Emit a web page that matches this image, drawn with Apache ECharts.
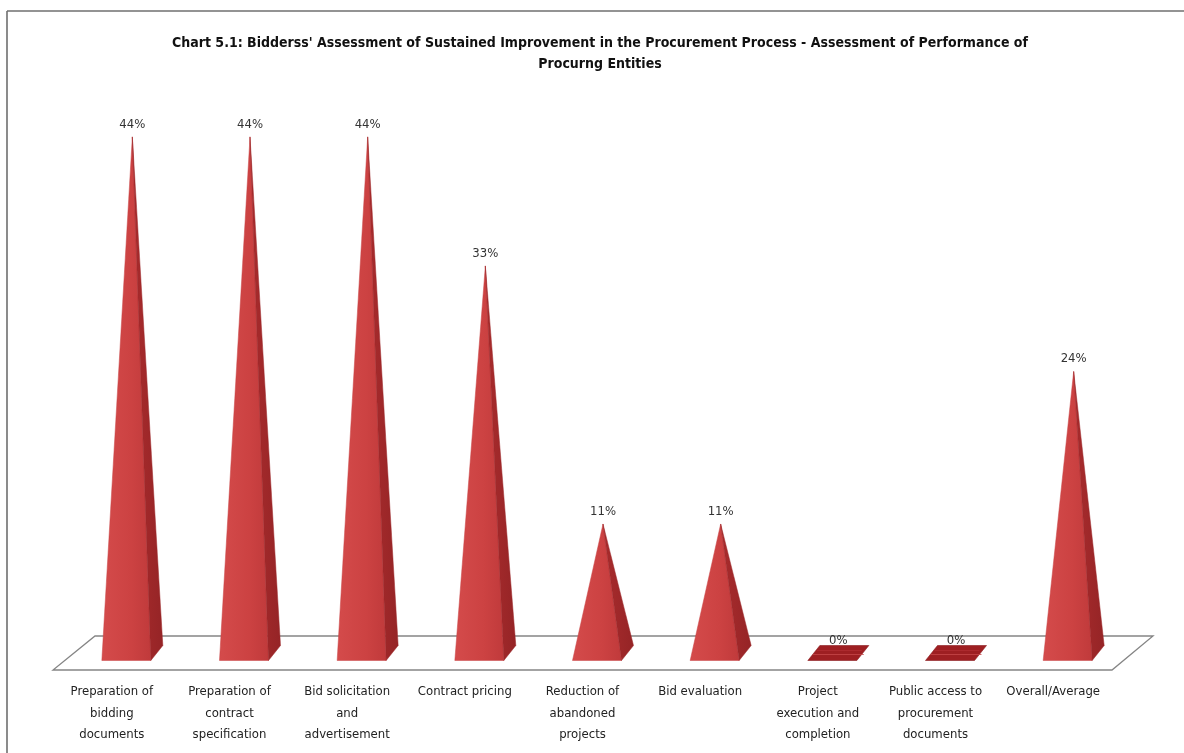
<!DOCTYPE html>
<html>
<head>
<meta charset="utf-8">
<title>Chart 5.1</title>
<script src="https://cdn.jsdelivr.net/npm/echarts@6/dist/echarts.min.js"></script>
<style>
  html, body { margin: 0; padding: 0; background: #ffffff; }
  #chart { width: 1184px; height: 753px; }
</style>
</head>
<body>
<div id="chart"></div>
<script>
// Categories assessed by bidders
const categories = [
  'Preparation of\nbidding\ndocuments',
  'Preparation of\ncontract\nspecification',
  'Bid solicitation\nand\nadvertisement',
  'Contract pricing',
  'Reduction of\nabandoned\nprojects',
  'Bid evaluation',
  'Project\nexecution and\ncompletion',
  'Public access to\nprocurement\ndocuments',
  'Overall/Average'
];

// Share of bidders reporting sustained improvement (%)
const values = [44, 44, 44, 33, 11, 11, 0, 0, 24];

const FONT = "'Liberation Sans Narrow', 'DejaVu Sans Condensed', 'Noto Sans', sans-serif";

// Floor depth (projected) and pyramid base footprint
const FLOOR_DX = 41, FLOOR_DY = 34;
const BASE_W = 49, BASE_DX = 12, BASE_DY = 15;

const chart = echarts.init(document.getElementById('chart'), null, { renderer: 'canvas' });

function renderFloor(params, api) {
  const band = api.size([1, 0])[0];
  const first = api.coord([0, 0]);
  const last = api.coord([categories.length - 1, 0]);
  const x0 = first[0] - band / 2, x1 = last[0] + band / 2, y = first[1];
  return {
    type: 'polygon',
    shape: { points: [[x0, y], [x1, y], [x1 + FLOOR_DX, y - FLOOR_DY], [x0 + FLOOR_DX + 1, y - FLOOR_DY]] },
    style: { fill: '#ffffff', stroke: '#858585', lineWidth: 1.3 },
    z2: 0
  };
}

function renderPyramid(params, api) {
  const i = api.value(0), v = api.value(1);
  const base = api.coord([i, 0]);
  const top = api.coord([i, v]);
  const cx = base[0] + FLOOR_DX / 2;
  const cy = base[1] - FLOOR_DY / 2;
  const apex = [top[0] + FLOOR_DX / 2, top[1] - FLOOR_DY / 2];
  const hw = BASE_W / 2, hdx = BASE_DX / 2, hdy = BASE_DY / 2;
  const FL = [cx - hw - hdx, cy + hdy];
  const FR = [cx + hw - hdx, cy + hdy];
  const BR = [cx + hw + hdx, cy - hdy];
  const BL = [cx - hw + hdx, cy - hdy];
  const children = [];
  if (v <= 0) {
    children.push({
      type: 'polygon',
      shape: { points: [FL, FR, BR, BL] },
      style: { fill: '#9e1f22', stroke: '#8a1a1c', lineWidth: 0.6 }
    });
    children.push({
      type: 'line',
      shape: { x1: FL[0] + 5, y1: cy + 1.5, x2: BR[0] - 5, y2: cy + 1.5 },
      style: { stroke: '#c5474a', lineWidth: 1, opacity: 0.8 }
    });
    children.push({
      type: 'line',
      shape: { x1: FL[0] + 9, y1: cy - 2.5, x2: BR[0] - 7, y2: cy - 2.5 },
      style: { stroke: '#b83438', lineWidth: 0.8, opacity: 0.7 }
    });
  } else {
    // front face
    children.push({
      type: 'polygon',
      shape: { points: [FL, FR, apex] },
      style: {
        fill: new echarts.graphic.LinearGradient(0, 0, 1, 0, [
          { offset: 0, color: '#d44b4b' },
          { offset: 0.6, color: '#cc4242' },
          { offset: 1, color: '#c03a3b' }
        ]),
        stroke: '#c94344', lineWidth: 0.5
      }
    });
    // right face
    children.push({
      type: 'polygon',
      shape: { points: [FR, BR, apex] },
      style: {
        fill: new echarts.graphic.LinearGradient(0, 0, 1, 0, [
          { offset: 0, color: '#a92c2d' },
          { offset: 1, color: '#952426' }
        ]),
        stroke: '#9c2728', lineWidth: 0.5
      }
    });
  }
  children.push({
    type: 'text',
    x: apex[0],
    y: apex[1] - 6,
    style: {
      text: v + '%',
      fill: '#333333',
      font: '13px ' + FONT,
      align: 'center',
      verticalAlign: 'bottom'
    }
  });
  return { type: 'group', children: children };
}

chart.setOption({
  animation: false,
  backgroundColor: '#ffffff',
  title: {
    text: "Chart 5.1: Bidderss' Assessment of Sustained Improvement in the Procurement Process - Assessment of Performance of\nProcurng Entities",
    left: 595,
    top: 28,
    textAlign: 'center',
    textStyle: {
      fontFamily: FONT,
      fontSize: 14,
      fontWeight: 'bold',
      color: '#111111',
      lineHeight: 21,
      align: 'center'
    }
  },
  grid: { left: 53, right: 72, top: 83.5, bottom: 83 },
  xAxis: {
    type: 'category',
    data: categories,
    axisLine: { show: false },
    axisTick: { show: false },
    axisLabel: {
      interval: 0,
      margin: 11,
      fontFamily: FONT,
      fontSize: 13,
      lineHeight: 21.5,
      color: '#222222',
      align: 'center'
    },
    splitLine: { show: false }
  },
  yAxis: {
    type: 'value',
    min: 0,
    max: 50,
    show: false
  },
  graphic: [
    { type: 'line', shape: { x1: 7, y1: 11, x2: 1184, y2: 11 }, style: { stroke: '#6f6f6f', lineWidth: 1.6 } },
    { type: 'line', shape: { x1: 7, y1: 11, x2: 7, y2: 753 }, style: { stroke: '#6f6f6f', lineWidth: 1.6 } }
  ],
  series: [
    {
      type: 'custom',
      name: 'floor',
      renderItem: renderFloor,
      data: [[0, 0]],
      silent: true,
      z: 1
    },
    {
      type: 'custom',
      name: 'Assessment',
      renderItem: renderPyramid,
      encode: { x: 0, y: 1 },
      data: values.map(function (v, i) { return [i, v]; }),
      z: 2
    }
  ]
});
</script>
</body>
</html>
